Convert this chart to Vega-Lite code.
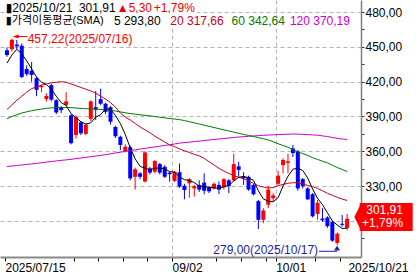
{
  "$schema": "https://vega.github.io/schema/vega-lite/v6.json",
  "width": 361,
  "height": 257,
  "autosize": "none",
  "padding": {"left": 0, "top": 0, "right": 58, "bottom": 22},
  "background": "white",
  "config": {"view": {"stroke": null}, "axis": {"labelFont": "Liberation Sans"}},
  "resolve": {"axis": {"x": "independent", "y": "independent"}},
  "datasets": {
    "candles": [
      {"d": "2025-07-15", "i": 0, "o": 447, "h": 449.5, "l": 441.5, "c": 443, "ma5": 436, "ma20": 396, "ma60": 388, "ma120": 346.9},
      {"d": "2025-07-16", "i": 1, "o": 448, "h": 457.22, "l": 446, "c": 456, "ma5": 443, "ma20": 400, "ma60": 390, "ma120": 347.3},
      {"d": "2025-07-17", "i": 2, "o": 452, "h": 456, "l": 448, "c": 450.5, "ma5": 448, "ma20": 404, "ma60": 391.5, "ma120": 347.8},
      {"d": "2025-07-18", "i": 3, "o": 451, "h": 453, "l": 423, "c": 424, "ma5": 444, "ma20": 407.5, "ma60": 393, "ma120": 348.2},
      {"d": "2025-07-21", "i": 4, "o": 431, "h": 434, "l": 425, "c": 426.5, "ma5": 438, "ma20": 411, "ma60": 394, "ma120": 348.7},
      {"d": "2025-07-22", "i": 5, "o": 429.5, "h": 437, "l": 420, "c": 425.8, "ma5": 431, "ma20": 414, "ma60": 395, "ma120": 349.1},
      {"d": "2025-07-23", "i": 6, "o": 423, "h": 424, "l": 407.5, "c": 413, "ma5": 424, "ma20": 415.5, "ma60": 395.8, "ma120": 349.6},
      {"d": "2025-07-24", "i": 7, "o": 415.2, "h": 417.5, "l": 411, "c": 416.4, "ma5": 419.5, "ma20": 417, "ma60": 396.4, "ma120": 350.1},
      {"d": "2025-07-25", "i": 8, "o": 405, "h": 410, "l": 403, "c": 407.7, "ma5": 417.5, "ma20": 418, "ma60": 397, "ma120": 350.7},
      {"d": "2025-07-28", "i": 9, "o": 417, "h": 418, "l": 403, "c": 404.5, "ma5": 413.5, "ma20": 419, "ma60": 397.4, "ma120": 351.2},
      {"d": "2025-07-29", "i": 10, "o": 404, "h": 405, "l": 392, "c": 393.5, "ma5": 407.5, "ma20": 419.5, "ma60": 397.7, "ma120": 351.7},
      {"d": "2025-07-30", "i": 11, "o": 398, "h": 399, "l": 393, "c": 395.5, "ma5": 402, "ma20": 420, "ma60": 397.8, "ma120": 352.2},
      {"d": "2025-07-31", "i": 12, "o": 400, "h": 411, "l": 399, "c": 403, "ma5": 399.5, "ma20": 419.5, "ma60": 397.8, "ma120": 352.6},
      {"d": "2025-08-01", "i": 13, "o": 391, "h": 392, "l": 366, "c": 367, "ma5": 392.5, "ma20": 418, "ma60": 397.6, "ma120": 353.1},
      {"d": "2025-08-04", "i": 14, "o": 374, "h": 391, "l": 371, "c": 389.5, "ma5": 389, "ma20": 416.5, "ma60": 397.3, "ma120": 353.7},
      {"d": "2025-08-05", "i": 15, "o": 385, "h": 386, "l": 374, "c": 375.5, "ma5": 385.5, "ma20": 415, "ma60": 397, "ma120": 354.2},
      {"d": "2025-08-06", "i": 16, "o": 375, "h": 384, "l": 374, "c": 383, "ma5": 383.5, "ma20": 413.5, "ma60": 396.7, "ma120": 354.8},
      {"d": "2025-08-07", "i": 17, "o": 388, "h": 404, "l": 386, "c": 403, "ma5": 384.5, "ma20": 412, "ma60": 396.5, "ma120": 355.4},
      {"d": "2025-08-08", "i": 18, "o": 398, "h": 412, "l": 387, "c": 396, "ma5": 389.5, "ma20": 410, "ma60": 396.3, "ma120": 355.9},
      {"d": "2025-08-11", "i": 19, "o": 405, "h": 414, "l": 400, "c": 401, "ma5": 391.5, "ma20": 407.5, "ma60": 396.1, "ma120": 356.5},
      {"d": "2025-08-12", "i": 20, "o": 401, "h": 402, "l": 392, "c": 394, "ma5": 396.5, "ma20": 405, "ma60": 395.8, "ma120": 357.1},
      {"d": "2025-08-13", "i": 21, "o": 398, "h": 399, "l": 383, "c": 385.5, "ma5": 396, "ma20": 402, "ma60": 395.3, "ma120": 357.8},
      {"d": "2025-08-14", "i": 22, "o": 381, "h": 382, "l": 371.5, "c": 373, "ma5": 391, "ma20": 398, "ma60": 394.7, "ma120": 358.6},
      {"d": "2025-08-15", "i": 23, "o": 372.5, "h": 373.5, "l": 361, "c": 365.5, "ma5": 384, "ma20": 393, "ma60": 394, "ma120": 359.2},
      {"d": "2025-08-18", "i": 24, "o": 360, "h": 366, "l": 359, "c": 364, "ma5": 374.5, "ma20": 389.5, "ma60": 393.2, "ma120": 359.9},
      {"d": "2025-08-19", "i": 25, "o": 363.5, "h": 365, "l": 335, "c": 336.7, "ma5": 363, "ma20": 387, "ma60": 392.5, "ma120": 360.6},
      {"d": "2025-08-20", "i": 26, "o": 338, "h": 346, "l": 327, "c": 344.5, "ma5": 353.5, "ma20": 384, "ma60": 392, "ma120": 361.2},
      {"d": "2025-08-21", "i": 27, "o": 341, "h": 342, "l": 336, "c": 338, "ma5": 347, "ma20": 381, "ma60": 391.5, "ma120": 361.9},
      {"d": "2025-08-22", "i": 28, "o": 334, "h": 360, "l": 333, "c": 359, "ma5": 345.5, "ma20": 378.5, "ma60": 391, "ma120": 362.5},
      {"d": "2025-08-25", "i": 29, "o": 345.3, "h": 346.5, "l": 340, "c": 341.6, "ma5": 344, "ma20": 376, "ma60": 390.5, "ma120": 363.2},
      {"d": "2025-08-26", "i": 30, "o": 342.4, "h": 352.5, "l": 341, "c": 351.6, "ma5": 345.5, "ma20": 373, "ma60": 390, "ma120": 363.8},
      {"d": "2025-08-27", "i": 31, "o": 349, "h": 350, "l": 340, "c": 341.6, "ma5": 345.5, "ma20": 370.5, "ma60": 389.4, "ma120": 364.4},
      {"d": "2025-08-28", "i": 32, "o": 346.7, "h": 348, "l": 337, "c": 338.1, "ma5": 345, "ma20": 368, "ma60": 388.8, "ma120": 365},
      {"d": "2025-08-29", "i": 33, "o": 341.6, "h": 342.5, "l": 333.8, "c": 340.3, "ma5": 342.5, "ma20": 365.5, "ma60": 388.3, "ma120": 365.6},
      {"d": "2025-09-02", "i": 34, "o": 334.5, "h": 343, "l": 333.5, "c": 342.4, "ma5": 342, "ma20": 364, "ma60": 387.8, "ma120": 366.3},
      {"d": "2025-09-03", "i": 35, "o": 342, "h": 349.5, "l": 328.5, "c": 329.5, "ma5": 338, "ma20": 362, "ma60": 387.3, "ma120": 367},
      {"d": "2025-09-04", "i": 36, "o": 330.3, "h": 332, "l": 318.6, "c": 326.6, "ma5": 335.5, "ma20": 360.5, "ma60": 386.5, "ma120": 367.5},
      {"d": "2025-09-05", "i": 37, "o": 332.4, "h": 337, "l": 320, "c": 335.9, "ma5": 335, "ma20": 359, "ma60": 385.5, "ma120": 367.9},
      {"d": "2025-09-08", "i": 38, "o": 328, "h": 331, "l": 321, "c": 330, "ma5": 333, "ma20": 357.4, "ma60": 384.5, "ma120": 368.4},
      {"d": "2025-09-09", "i": 39, "o": 331, "h": 335, "l": 325, "c": 327, "ma5": 330, "ma20": 356, "ma60": 383.5, "ma120": 368.8},
      {"d": "2025-09-10", "i": 40, "o": 333, "h": 341, "l": 323, "c": 326, "ma5": 329.5, "ma20": 354, "ma60": 382.5, "ma120": 369.3},
      {"d": "2025-09-11", "i": 41, "o": 329, "h": 330, "l": 324, "c": 325.5, "ma5": 329, "ma20": 351, "ma60": 381.5, "ma120": 369.7},
      {"d": "2025-09-12", "i": 42, "o": 328, "h": 333, "l": 327, "c": 332, "ma5": 328.5, "ma20": 348.2, "ma60": 380.5, "ma120": 370.2},
      {"d": "2025-09-15", "i": 43, "o": 331, "h": 334, "l": 323, "c": 327, "ma5": 328, "ma20": 345.3, "ma60": 379.5, "ma120": 370.6},
      {"d": "2025-09-16", "i": 44, "o": 329, "h": 337, "l": 327, "c": 336, "ma5": 329.5, "ma20": 343, "ma60": 378.5, "ma120": 371},
      {"d": "2025-09-17", "i": 45, "o": 335, "h": 336, "l": 324, "c": 330, "ma5": 330.5, "ma20": 341, "ma60": 377.5, "ma120": 371.5},
      {"d": "2025-09-18", "i": 46, "o": 335, "h": 358, "l": 334, "c": 349, "ma5": 334.5, "ma20": 339, "ma60": 376.5, "ma120": 371.9},
      {"d": "2025-09-19", "i": 47, "o": 347, "h": 351, "l": 338, "c": 344, "ma5": 337.5, "ma20": 337.6, "ma60": 375.5, "ma120": 372.3},
      {"d": "2025-09-22", "i": 48, "o": 338, "h": 342, "l": 331, "c": 336.5, "ma5": 338.5, "ma20": 336.4, "ma60": 374.5, "ma120": 372.6},
      {"d": "2025-09-23", "i": 49, "o": 338, "h": 339, "l": 326, "c": 327, "ma5": 337, "ma20": 334.4, "ma60": 373.7, "ma120": 372.9},
      {"d": "2025-09-24", "i": 50, "o": 331, "h": 332, "l": 322, "c": 323, "ma5": 335, "ma20": 332.4, "ma60": 372.8, "ma120": 373.2},
      {"d": "2025-09-25", "i": 51, "o": 317, "h": 318, "l": 293, "c": 301, "ma5": 326, "ma20": 330.3, "ma60": 371.8, "ma120": 373.5},
      {"d": "2025-09-26", "i": 52, "o": 301, "h": 311, "l": 298, "c": 309, "ma5": 319, "ma20": 329.2, "ma60": 370.8, "ma120": 373.8},
      {"d": "2025-09-29", "i": 53, "o": 314, "h": 330, "l": 311, "c": 327, "ma5": 317, "ma20": 328.4, "ma60": 369.8, "ma120": 374},
      {"d": "2025-09-30", "i": 54, "o": 319.5, "h": 324, "l": 317, "c": 322, "ma5": 316.5, "ma20": 328.7, "ma60": 368.3, "ma120": 374.2},
      {"d": "2025-10-01", "i": 55, "o": 332, "h": 343, "l": 331, "c": 339, "ma5": 320, "ma20": 330.3, "ma60": 366.5, "ma120": 374.4},
      {"d": "2025-10-02", "i": 56, "o": 348, "h": 354, "l": 341, "c": 352.5, "ma5": 330, "ma20": 331.5, "ma60": 365, "ma120": 374.6},
      {"d": "2025-10-03", "i": 57, "o": 350, "h": 358, "l": 341, "c": 351.3, "ma5": 338.5, "ma20": 332.4, "ma60": 363.5, "ma120": 374.7},
      {"d": "2025-10-06", "i": 58, "o": 362.5, "h": 365.5, "l": 355, "c": 358.5, "ma5": 344.5, "ma20": 332.9, "ma60": 361.5, "ma120": 374.9},
      {"d": "2025-10-07", "i": 59, "o": 360, "h": 361, "l": 326, "c": 328, "ma5": 345.5, "ma20": 332.9, "ma60": 359.5, "ma120": 374.8},
      {"d": "2025-10-08", "i": 60, "o": 336, "h": 337, "l": 328, "c": 330, "ma5": 343.5, "ma20": 331.8, "ma60": 358, "ma120": 374.6},
      {"d": "2025-10-09", "i": 61, "o": 328, "h": 329, "l": 318, "c": 318.6, "ma5": 337, "ma20": 330.6, "ma60": 356.5, "ma120": 374.4},
      {"d": "2025-10-10", "i": 62, "o": 323, "h": 324, "l": 303, "c": 304, "ma5": 327.5, "ma20": 329.5, "ma60": 354.5, "ma120": 374.1},
      {"d": "2025-10-13", "i": 63, "o": 306, "h": 318, "l": 301, "c": 315.7, "ma5": 319.5, "ma20": 328, "ma60": 353, "ma120": 373.9},
      {"d": "2025-10-14", "i": 64, "o": 302, "h": 311, "l": 299, "c": 300.5, "ma5": 314, "ma20": 326, "ma60": 351.5, "ma120": 373.3},
      {"d": "2025-10-15", "i": 65, "o": 303, "h": 304, "l": 294, "c": 295.5, "ma5": 307, "ma20": 323.8, "ma60": 350, "ma120": 372.7},
      {"d": "2025-10-16", "i": 66, "o": 299, "h": 300, "l": 282, "c": 283, "ma5": 300, "ma20": 322.1, "ma60": 348, "ma120": 371.9},
      {"d": "2025-10-17", "i": 67, "o": 281, "h": 290, "l": 279, "c": 289, "ma5": 296.5, "ma20": 320.3, "ma60": 346, "ma120": 371.2},
      {"d": "2025-10-20", "i": 68, "o": 297.5, "h": 305, "l": 295, "c": 296.61, "ma5": 293.5, "ma20": 318.8, "ma60": 344.3, "ma120": 370.6},
      {"d": "2025-10-21", "i": 69, "o": 294, "h": 306, "l": 292, "c": 301.91, "ma5": 293.8, "ma20": 317.66, "ma60": 342.64, "ma120": 370.19}
    ]
  },
  "layer": [
    {
      "data": {"name": "candles"},
      "mark": {"type": "rule", "strokeWidth": 1},
      "encoding": {
        "x": {
          "field": "i", "type": "quantitative",
          "scale": {"domain": [-0.4, 70.8], "nice": false, "zero": false},
          "axis": {
            "title": null,
            "values": [-0.4, 13.5, 18.5, 23.5, 28.5, 33.5, 42.5, 47.5, 52.5, 54.5, 62.5, 67.5, 70.7],
            "labelExpr": "datum.value < 0 ? '2025/07/15' : (datum.value > 33 && datum.value < 34) ? '09/02' : (datum.value > 54 && datum.value < 55) ? '10/01' : datum.value > 70 ? '2025/10/21' : ''",
            "labelAlign": {"condition": {"test": "datum.value > 70", "value": "right"}, "value": "left"},
            "labelOffset": {"condition": {"test": "datum.value > 70", "value": 52.5}, "value": 0},
            "labelFlush": false, "labelOverlap": false, "labelBound": false,
            "labelFont": "Liberation Sans", "labelFontSize": 12, "labelColor": "#000000",
            "labelPadding": 1, "labelBaseline": "top",
            "tickSize": 4, "tickColor": "#000000",
            "tickOpacity": {"condition": {"test": "datum.value > 70", "value": 0}, "value": 1},
            "domainColor": "#8a8a8a", "domainWidth": 2,
            "grid": true, "gridColor": "#b4b4b4", "gridDash": [4, 3],
            "gridOpacity": {"condition": {"test": "(datum.value > 33 && datum.value < 34) || (datum.value > 54 && datum.value < 55)", "value": 1}, "value": 0}
          }
        },
        "y": {
          "field": "l", "type": "quantitative",
          "scale": {"domain": [268.9, 490.4], "nice": false, "zero": false},
          "axis": {
            "title": null, "orient": "right",
            "values": [285, 300, 315, 330, 345, 360, 375, 390, 405, 420, 435, 450, 465, 480],
            "labelExpr": "(datum.value % 30 == 0 && datum.value != 300) ? replace(format(datum.value, '.2f'), '.', ',') : ''",
            "labelFont": "Liberation Sans", "labelFontSize": 12, "labelColor": "#000000",
            "labelPadding": 1, "labelFlush": false, "labelOverlap": false,
            "tickSize": 3, "tickColor": "#333333",
            "domainColor": "#808080", "domainWidth": 1.5,
            "grid": true, "gridColor": "#b4b4b4", "gridDash": [4, 3],
            "gridOpacity": {"condition": {"test": "datum.value % 30 == 0", "value": 1}, "value": 0}
          }
        },
        "y2": {"field": "h"},
        "color": {"condition": {"test": "datum.c >= datum.o", "value": "#ff0000"}, "value": "#0000ff"}
      }
    },
    {
      "data": {"values": [{}]},
      "mark": {"type": "rect", "color": "#ffffff"},
      "encoding": {
        "x": {"datum": -0.4, "type": "quantitative", "axis": null},
        "x2": {"datum": 38.6},
        "y": {"datum": 466.3, "type": "quantitative", "axis": null},
        "y2": {"datum": 490.4}
      }
    },
    {
      "data": {"name": "candles"},
      "mark": {"type": "bar", "width": 4},
      "encoding": {
        "x": {"field": "i", "type": "quantitative", "axis": null},
        "y": {"field": "o", "type": "quantitative", "axis": null},
        "y2": {"field": "c"},
        "color": {"condition": {"test": "datum.c >= datum.o", "value": "#ff0000"}, "value": "#0000ff"}
      }
    },
    {
      "data": {"name": "candles"},
      "mark": {"type": "line", "color": "#cc00cc", "strokeWidth": 1},
      "encoding": {
        "x": {"field": "i", "type": "quantitative", "axis": null},
        "y": {"field": "ma120", "type": "quantitative", "axis": null}
      }
    },
    {
      "data": {"name": "candles"},
      "mark": {"type": "line", "color": "#007a00", "strokeWidth": 1},
      "encoding": {
        "x": {"field": "i", "type": "quantitative", "axis": null},
        "y": {"field": "ma60", "type": "quantitative", "axis": null}
      }
    },
    {
      "data": {"name": "candles"},
      "mark": {"type": "line", "color": "#c8001e", "strokeWidth": 1},
      "encoding": {
        "x": {"field": "i", "type": "quantitative", "axis": null},
        "y": {"field": "ma20", "type": "quantitative", "axis": null}
      }
    },
    {
      "data": {"name": "candles"},
      "mark": {"type": "line", "color": "#000000", "strokeWidth": 1},
      "encoding": {
        "x": {"field": "i", "type": "quantitative", "axis": null},
        "y": {"field": "ma5", "type": "quantitative", "axis": null}
      }
    },
    {
      "data": {"values": [{"p": 457.22}]},
      "mark": {"type": "rule", "color": "#ff0000", "strokeWidth": 1, "yOffset": -2},
      "encoding": {
        "x": {"datum": 2.1, "type": "quantitative", "axis": null},
        "x2": {"datum": 4.14},
        "y": {"field": "p", "type": "quantitative", "axis": null}
      }
    },
    {
      "data": {"values": [{"p": 457.22}]},
      "mark": {"type": "point", "shape": "M -1 0 L 1 -0.7 L 1 0.7 Z", "filled": true, "size": 36, "color": "#ff0000", "opacity": 1, "yOffset": -2},
      "encoding": {
        "x": {"datum": 1.77, "type": "quantitative", "axis": null},
        "y": {"field": "p", "type": "quantitative", "axis": null}
      }
    },
    {
      "data": {"values": [{"p": 457.22, "t": "457,22(2025/07/16)"}]},
      "mark": {"type": "text", "align": "left", "baseline": "middle", "font": "Liberation Sans", "fontSize": 12, "color": "#ff0000", "dy": 1},
      "encoding": {
        "x": {"datum": 4.2, "type": "quantitative", "axis": null},
        "y": {"field": "p", "type": "quantitative", "axis": null},
        "text": {"field": "t"}
      }
    },
    {
      "data": {"values": [{"p": 279, "t": "279,00(2025/10/17)"}]},
      "mark": {"type": "text", "align": "right", "baseline": "middle", "font": "Liberation Sans", "fontSize": 12, "color": "#1e1e9c", "dy": 5},
      "encoding": {
        "x": {"datum": 63.11, "type": "quantitative", "axis": null},
        "y": {"field": "p", "type": "quantitative", "axis": null},
        "text": {"field": "t"}
      }
    },
    {
      "data": {"values": [{"p": 279}]},
      "mark": {"type": "rule", "color": "#1e1e9c", "strokeWidth": 1, "yOffset": 6},
      "encoding": {
        "x": {"datum": 63.31, "type": "quantitative", "axis": null},
        "x2": {"datum": 66.96},
        "y": {"field": "p", "type": "quantitative", "axis": null}
      }
    },
    {
      "data": {"values": [{"p": 279}]},
      "mark": {"type": "point", "shape": "M 0 -1 L 1 0.6 L -1 0.6 Z", "filled": true, "size": 36, "color": "#1e1e9c", "opacity": 1, "yOffset": 3.5},
      "encoding": {
        "x": {"datum": 66.96, "type": "quantitative", "axis": null},
        "y": {"field": "p", "type": "quantitative", "axis": null}
      }
    },
    {
      "data": {"values": [{"p": 301.91}]},
      "mark": {"type": "rect", "color": "#ff0000"},
      "encoding": {
        "x": {"datum": 71.55, "type": "quantitative", "axis": null},
        "x2": {"datum": 82.3},
        "y": {"datum": 291.3, "type": "quantitative", "axis": null},
        "y2": {"datum": 315.4}
      }
    },
    {
      "data": {"values": [{"p": 301.91}]},
      "mark": {"type": "point", "shape": "M -0.4 0 L 0.1 -1 L 0.1 1 Z", "filled": true, "size": 784, "color": "#ff0000", "opacity": 1},
      "encoding": {
        "x": {"datum": 71.59, "type": "quantitative", "axis": null},
        "y": {"datum": 303.4, "type": "quantitative", "axis": null}
      }
    },
    {
      "data": {"values": [{"t": "301,91"}]},
      "mark": {"type": "text", "align": "center", "baseline": "middle", "font": "Liberation Sans", "fontSize": 12, "color": "#ffffff"},
      "encoding": {
        "x": {"datum": 76.6, "type": "quantitative", "axis": null},
        "y": {"datum": 309.0, "type": "quantitative", "axis": null},
        "text": {"field": "t"}
      }
    },
    {
      "data": {"values": [{"t": "+1,79%"}]},
      "mark": {"type": "text", "align": "center", "baseline": "middle", "font": "Liberation Sans", "fontSize": 12, "color": "#ffffff"},
      "encoding": {
        "x": {"datum": 76.2, "type": "quantitative", "axis": null},
        "y": {"datum": 297.8, "type": "quantitative", "axis": null},
        "text": {"field": "t"}
      }
    },
    {
      "data": {"values": [{"t": "▮2025/10/21"}]},
      "mark": {"type": "text", "align": "left", "baseline": "middle", "font": "Liberation Sans, DejaVu Sans, Noto Sans CJK KR", "fontSize": 12, "color": "#000000"},
      "encoding": {
        "x": {"datum": -0.25, "type": "quantitative", "axis": null},
        "y": {"datum": 483.9, "type": "quantitative", "axis": null},
        "text": {"field": "t"}
      }
    },
    {
      "data": {"values": [{"t": "301,91"}]},
      "mark": {"type": "text", "align": "left", "baseline": "middle", "font": "Liberation Sans", "fontSize": 12, "color": "#000000"},
      "encoding": {
        "x": {"datum": 14.59, "type": "quantitative", "axis": null},
        "y": {"datum": 483.9, "type": "quantitative", "axis": null},
        "text": {"field": "t"}
      }
    },
    {
      "data": {"values": [{"t": "▲5,30"}]},
      "mark": {"type": "text", "align": "left", "baseline": "middle", "font": "Liberation Sans, DejaVu Sans", "fontSize": 12, "color": "#ee0000"},
      "encoding": {
        "x": {"datum": 22.28, "type": "quantitative", "axis": null},
        "y": {"datum": 483.9, "type": "quantitative", "axis": null},
        "text": {"field": "t"}
      }
    },
    {
      "data": {"values": [{"t": "+1,79%"}]},
      "mark": {"type": "text", "align": "left", "baseline": "middle", "font": "Liberation Sans", "fontSize": 12, "color": "#ee0000"},
      "encoding": {
        "x": {"datum": 29.78, "type": "quantitative", "axis": null},
        "y": {"datum": 483.9, "type": "quantitative", "axis": null},
        "text": {"field": "t"}
      }
    },
    {
      "data": {"values": [{"t": "▮가격이동평균(SMA)"}]},
      "mark": {"type": "text", "align": "left", "baseline": "middle", "font": "Liberation Sans, DejaVu Sans, Noto Sans CJK KR", "fontSize": 11, "color": "#000000"},
      "encoding": {
        "x": {"datum": -0.25, "type": "quantitative", "axis": null},
        "y": {"datum": 472.3, "type": "quantitative", "axis": null},
        "text": {"field": "t"}
      }
    },
    {
      "data": {"values": [{"t": "5 293,80"}]},
      "mark": {"type": "text", "align": "left", "baseline": "middle", "font": "Liberation Sans", "fontSize": 12, "color": "#000000"},
      "encoding": {
        "x": {"datum": 21.69, "type": "quantitative", "axis": null},
        "y": {"datum": 472.3, "type": "quantitative", "axis": null},
        "text": {"field": "t"}
      }
    },
    {
      "data": {"values": [{"t": "20 317,66"}]},
      "mark": {"type": "text", "align": "left", "baseline": "middle", "font": "Liberation Sans", "fontSize": 12, "color": "#c8001e"},
      "encoding": {
        "x": {"datum": 33.13, "type": "quantitative", "axis": null},
        "y": {"datum": 472.3, "type": "quantitative", "axis": null},
        "text": {"field": "t"}
      }
    },
    {
      "data": {"values": [{"t": "60 342,64"}]},
      "mark": {"type": "text", "align": "left", "baseline": "middle", "font": "Liberation Sans", "fontSize": 12, "color": "#007a00"},
      "encoding": {
        "x": {"datum": 45.56, "type": "quantitative", "axis": null},
        "y": {"datum": 472.3, "type": "quantitative", "axis": null},
        "text": {"field": "t"}
      }
    },
    {
      "data": {"values": [{"t": "120 370,19"}]},
      "mark": {"type": "text", "align": "left", "baseline": "middle", "font": "Liberation Sans", "fontSize": 12, "color": "#cc00cc"},
      "encoding": {
        "x": {"datum": 57.39, "type": "quantitative", "axis": null},
        "y": {"datum": 472.3, "type": "quantitative", "axis": null},
        "text": {"field": "t"}
      }
    }
  ]
}
